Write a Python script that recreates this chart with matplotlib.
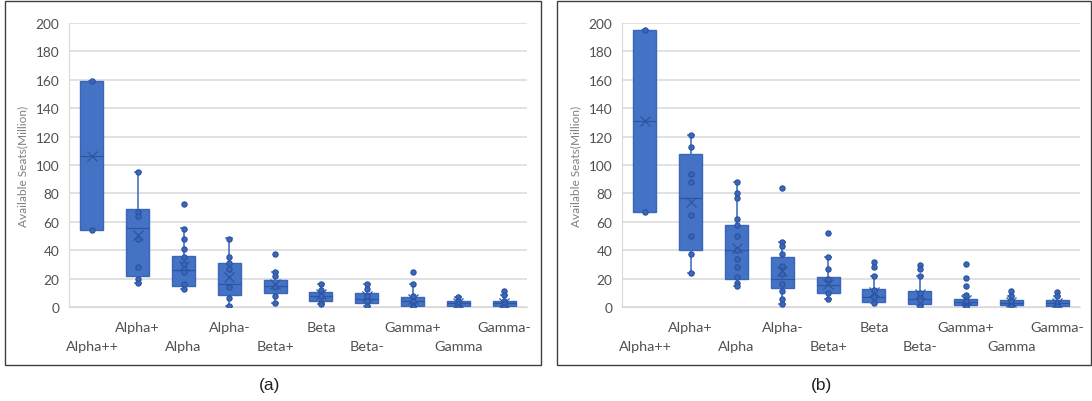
import matplotlib
matplotlib.use("Agg")
import matplotlib.pyplot as plt
import numpy as np
from matplotlib.patches import Rectangle
from matplotlib.transforms import ScaledTranslation

categories = ['Alpha++', 'Alpha+', 'Alpha', 'Alpha-', 'Beta+', 'Beta', 'Beta-',
              'Gamma+', 'Gamma', 'Gamma-']

# Panel (a)
a_q1 = [54.5, 21.5, 15, 8.7, 10, 4, 2.6, 1, 1, 0.7]
a_med = [106.5, 55.5, 26.3, 16.2, 15, 8, 5.6, 4, 3, 2.5]
a_q3 = [159, 69, 36.2, 31, 19, 10.8, 9.8, 6.8, 4.4, 4.5]
a_whislo = [54.5, 17, 12.7, 1, 3, 2, 0.8, 0, 0, 0]
a_whishi = [159, 95, 55.5, 48.4, 25, 16, 16, 16, 7, 8.5]
a_mean = [106.6, 50.7, 29.1, 20.9, 16.2, 9.2, 7.5, 5.6, 3, 3]
a_points = [[159, 54.5], [95, 67, 64, 48, 28, 20, 17],
            [72.5, 55, 48, 41, 35, 30, 25, 16, 13], [48, 35, 31, 27, 14, 6, 1],
            [37, 25, 22, 14, 8, 3], [16, 12, 8, 3, 2], [16, 12.5, 8, 4, 1],
            [25, 16, 8, 4, 1, 0], [7, 4, 2, 0], [11, 8.5, 4, 2, 0]]

# Panel (b)
b_q1 = [67, 40, 20, 13.5, 10, 3.5, 2, 1.6, 1.1, 0.5]
b_med = [131, 76.7, 40, 19.4, 15.2, 7, 5.8, 3.5, 3, 2.5]
b_q3 = [195, 108, 57.5, 35.5, 21, 12.8, 11, 5.8, 4.6, 4.6]
b_whislo = [67, 24, 15, 1.8, 5.4, 2.5, 1, 0, 0, 0]
b_whishi = [195, 121, 88, 46, 35.5, 22, 21.7, 8.6, 8, 8]
b_mean = [131, 74, 41.4, 25.7, 16.4, 10.5, 9.3, 5, 3.5, 3]
b_points = [[195, 67], [121, 113, 94, 88, 65, 50, 37, 24],
            [88, 80, 77, 62, 58, 50, 40, 34, 28, 21, 17, 15],
            [83.5, 46, 43, 37, 29, 23, 16, 11, 5.5, 2],
            [52, 35.5, 26.5, 20, 10, 5.5], [31.5, 28.5, 22, 12, 7, 3],
            [29.7, 27, 21.7, 10, 5, 1], [30, 20.3, 14.7, 8.6, 4, 1, 0],
            [11, 8, 4, 1], [10.5, 8, 3, 0.5]]

y_ticks = [0, 20, 40, 60, 80, 100, 120, 140, 160, 180, 200]
y_label = 'Available Seats(Million)'
panel_labels = ['(a)', '(b)']

BLUE = '#4472C4'
TXT = '#505050'
GRID = '#D9D9D9'
FONT = 'Lato'

W, H = 1092, 402
fig = plt.figure(figsize=(W / 100, H / 100), dpi=100)


def px(x0, y0, x1, y1):
    return [x0 / W, 1 - y1 / H, (x1 - x0) / W, (y1 - y0) / H]


def draw(ax, q1, med, q3, lo, hi, mean, pts):
    stats = []
    for i in range(len(categories)):
        stats.append(dict(q1=q1[i], med=med[i], q3=q3[i], whislo=lo[i],
                          whishi=hi[i], mean=mean[i], fliers=[]))
    ax.bxp(stats, positions=list(range(len(categories))), widths=0.5,
           showmeans=True, patch_artist=True, showfliers=False, capwidths=0.13,
           boxprops=dict(facecolor=BLUE, edgecolor='#3A66B8', linewidth=1.0),
           whiskerprops=dict(color=BLUE, linewidth=1.2),
           capprops=dict(color=BLUE, linewidth=1.2),
           medianprops=dict(color='#2D55A0', linewidth=0.9),
           meanprops=dict(marker='x', markeredgecolor='#2D55A0', markersize=6.5,
                          markeredgewidth=0.9), zorder=3)
    for i, p in enumerate(pts):
        ax.plot(np.full(len(p), i), p, 'o', markersize=3.8,
                markerfacecolor='#3A66BC', markeredgecolor='#2A529E',
                markeredgewidth=0.8, zorder=5, linestyle='none')
    ax.set_xlim(-0.5, len(categories) - 0.5)
    ax.set_ylim(0, 200)
    ax.set_yticks(y_ticks)
    ax.set_yticklabels([str(v) for v in y_ticks], fontsize=9.8, color=TXT,
                       family=FONT)
    ax.yaxis.grid(True, color=GRID, linewidth=1.1)
    ax.set_axisbelow(True)
    for s in ['top', 'right']:
        ax.spines[s].set_visible(False)
    ax.spines['left'].set_color(GRID)
    ax.spines['bottom'].set_color(GRID)
    ax.tick_params(length=0, pad=7)
    ax.set_xticks(list(range(len(categories))))
    ax.set_xticklabels(categories, fontsize=10.4, color=TXT, family=FONT)
    ax.tick_params(axis='x', pad=10)
    for i, lab in enumerate(ax.get_xticklabels()):
        if i % 2 == 0:
            lab.set_transform(lab.get_transform() +
                              ScaledTranslation(0, -19 / 100, fig.dpi_scale_trans))
    ax.set_ylabel(y_label, fontsize=8.6, color='#808080', family=FONT, labelpad=5)


ax1 = fig.add_axes(px(69, 24, 527, 308))
draw(ax1, a_q1, a_med, a_q3, a_whislo, a_whishi, a_mean, a_points)
ax2 = fig.add_axes(px(622, 24, 1080, 308))
draw(ax2, b_q1, b_med, b_q3, b_whislo, b_whishi, b_mean, b_points)

for (x0, x1) in [(5, 541), (557, 1091)]:
    fig.patches.append(Rectangle((x0 / W, 1 - 366 / H), (x1 - x0) / W, 364 / H,
                                 transform=fig.transFigure, fill=False,
                                 edgecolor='#404040', linewidth=1.0))

fig.text(270 / W, 1 - 386 / H, panel_labels[0], ha='center', va='center',
         fontsize=12.5, family='Liberation Sans', color='#222222')
fig.text(822 / W, 1 - 386 / H, panel_labels[1], ha='center', va='center',
         fontsize=12.5, family='Liberation Sans', color='#222222')

fig.savefig('out.png', dpi=100)
